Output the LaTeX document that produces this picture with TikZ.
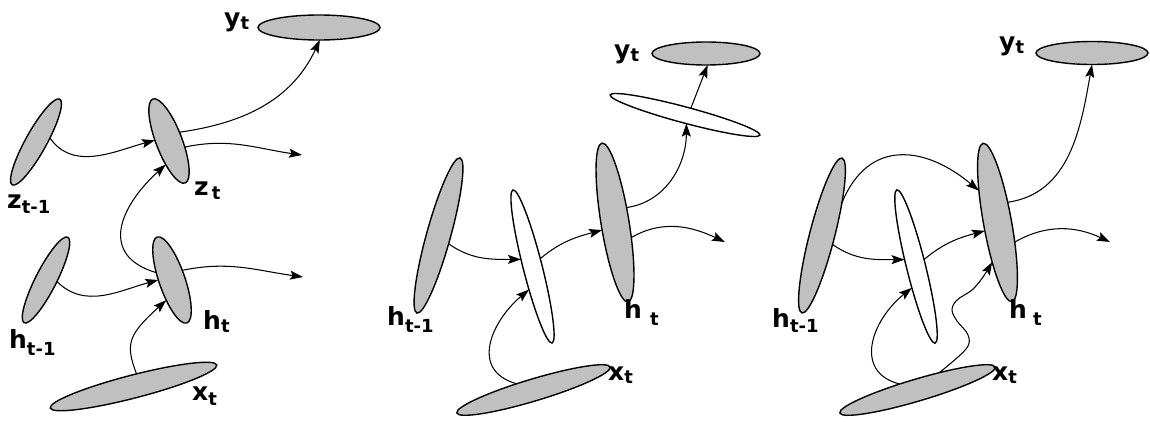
\documentclass[tikz,border=0pt]{standalone}
\usepackage{fontspec}
\setmainfont{DejaVu Sans}
\usetikzlibrary{shapes.geometric,arrows.meta}
\definecolor{ellgray}{RGB}{192,192,192}
\newcommand\lab[3]{#1\raisebox{-#3pt}{\fontsize{18}{18}\selectfont #2}}
\begin{document}
\begin{tikzpicture}[x=1pt,y=1pt,
  el/.style={ellipse, draw=black, line width=1.4pt, inner sep=0pt, outer sep=0pt},
  gel/.style={el, fill=ellgray},
  wel/.style={el, fill=white},
  conn/.style={line width=1.05pt, -{Stealth[length=13pt,width=9pt,inset=2.5pt]}},
  lbl/.style={anchor=base west, inner sep=0pt, font=\fontsize{25}{25}\selectfont\bfseries}]
\useasboundingbox (0,0) rectangle (1150,421);

% ---------- panel 1 ----------
\node[gel, minimum width=122pt, minimum height=25pt] (y1) at (319,393.5) {};
\node[gel, minimum width=98pt, minimum height=21pt, rotate=61] (z0) at (36,279) {};
\node[gel, minimum width=90pt, minimum height=26pt, rotate=111] (z1) at (169,280) {};
\node[gel, minimum width=96pt, minimum height=21pt, rotate=63] (h0) at (46,141) {};
\node[gel, minimum width=91pt, minimum height=26pt, rotate=109] (h1) at (172,141) {};
\node[gel, minimum width=172pt, minimum height=23pt, rotate=14.5] (x1) at (133.5,34.5) {};

\coordinate (o1) at (302,266);
\coordinate (o2) at (303,144);
\draw[conn] (z0.315) to[out=-55,in=195] (z1.66);
\draw[conn] (z1.289) to[out=8,in=245] (y1.274);
\draw[conn] (z1.228) to[out=12,in=172] (o1);
\draw[conn] (h1.46) .. controls +(-57,17) and +(-47,-43) .. (z1.151);
\draw[conn] (h0.289) to[out=-45,in=195] (h1.71);
\draw[conn] (h1.294) to[out=12,in=172] (o2);
\draw[conn] (x1.62) .. controls +(-12,31) and +(-37,-34) .. (h1.145);

\node[lbl] (ly1) at (224,394.5) {\lab{y}{t}{3}};
\node[lbl] (lz0) at (7,213) {\lab{z}{t-1}{5}};
\node[lbl] (lz1) at (194,226) {\lab{z}{\hspace{3pt}t}{5}};
\node[lbl] (lh0) at (9,73) {\lab{h}{t-1}{7}};
\node[lbl] (lh1) at (203,92) {\lab{h}{t}{3}};
\node[lbl] (lx1) at (192,21) {\lab{x}{t}{5}};

% ---------- panel 2 ----------
\node[gel, minimum width=108pt, minimum height=23pt] (y2) at (706,367.5) {};
\node[wel, minimum width=155pt, minimum height=16pt, rotate=-15] (u2) at (685,306) {};
\node[gel, minimum width=161pt, minimum height=24pt, rotate=74.5] (h02) at (438.5,185.5) {};
\node[wel, minimum width=158pt, minimum height=19pt, rotate=104.3] (m2) at (532.5,154.5) {};
\node[gel, minimum width=161pt, minimum height=28pt, rotate=99.3] (h12) at (615,198.5) {};
\node[gel, minimum width=160pt, minimum height=22pt, rotate=16.7] (x2) at (533.5,31) {};

\coordinate (o3) at (725,179);
\draw[conn] (h02.246) to[out=-35,in=180] (m2.44);
\draw[conn] (m2.301) to[out=40,in=195] (h12.111);
\draw[conn] (x2.143) .. controls +(-47,13) and +(-38,-32) .. (m2.157);
\draw[conn] (h12.313) to[out=8,in=-90] (u2.294);
\draw[conn] (u2.64) -- (y2.278);
\draw[conn] (h12.218) to[out=30,in=155] (o3);

\node[lbl] (ly2) at (614,362) {\lab{y}{t}{3}};
\node[lbl] (lh02) at (387,96) {\lab{h}{t-1}{7}};
\node[lbl] (lh12) at (624,103) {\lab{h}{\hspace{8pt}t}{7}};
\node[lbl] (lx2) at (608,41) {\lab{x}{t}{3}};

% ---------- panel 3 ----------
\node[gel, minimum width=112pt, minimum height=23pt] (y3) at (1092,368) {};
\node[gel, minimum width=160pt, minimum height=25pt, rotate=75.5] (h03) at (822,185.5) {};
\node[wel, minimum width=158pt, minimum height=19pt, rotate=104] (m3) at (916,154.5) {};
\node[gel, minimum width=161pt, minimum height=28pt, rotate=100.3] (h13) at (997.5,198.5) {};
\node[gel, minimum width=162pt, minimum height=22pt, rotate=16.5] (x3) at (917.5,31) {};

\coordinate (o4) at (1110,179);
\draw[conn] (h03.343) to[out=68,in=140,looseness=1.3] (h13.20);
\draw[conn] (h03.244) to[out=-35,in=180] (m3.45);
\draw[conn] (m3.297) to[out=40,in=195] (h13.113);
\draw[conn] (x3.145) .. controls +(-47,12) and +(-40,-32) .. (m3.155);
\draw[conn] plot[smooth, tension=0.6] coordinates {(x3.22) (966,72) (968,86) (957,100) (952,111) (957,121) (972,131) (983,144) (h13.162)};
\draw[conn] (h13.323) to[out=8,in=-100] (y3.south);
\draw[conn] (h13.211) to[out=30,in=155] (o4);

\node[lbl] (ly3) at (999,370) {\lab{y}{t}{3}};
\node[lbl] (lh03) at (772,94) {\lab{h}{t-1}{5}};
\node[lbl] (lh13) at (1009,103) {\lab{h}{\hspace{6pt}t}{7}};
\node[lbl] (lx3) at (992,41) {\lab{x}{t}{3}};
\end{tikzpicture}
\end{document}
